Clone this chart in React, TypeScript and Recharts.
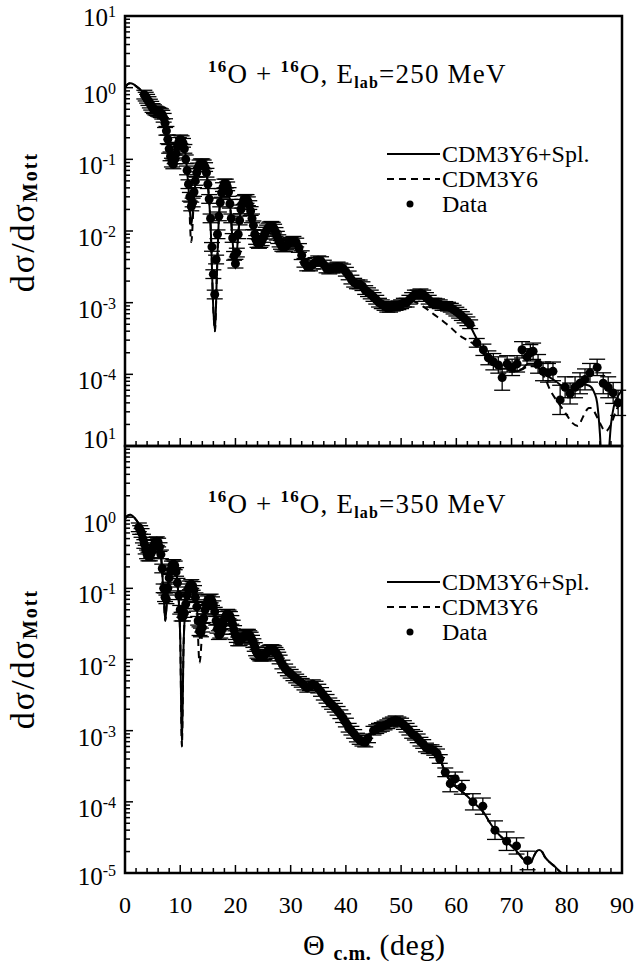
import React from 'react'
import { ComposedChart, Line, Scatter, XAxis, YAxis, ErrorBar, ReferenceArea, Legend } from 'recharts'

const FONT = '"Liberation Serif", "Times New Roman", serif'
const W = 634
const H = 964

// 16O + 16O, Elab = 250 MeV
const spl250 = [
  [0, 1.0], [0.5, 1.12], [1, 1.15], [1.5, 1.12], [2, 1.05], [2.5, 0.98], [3, 0.9], [3.5, 0.82], [4, 0.72],
  [4.5, 0.6], [5, 0.52], [5.5, 0.47], [6, 0.45], [6.5, 0.45], [7, 0.4], [7.5, 0.25], [8, 0.13], [8.5, 0.08],
  [9, 0.09], [9.5, 0.15], [10, 0.19], [10.5, 0.18], [11, 0.11], [11.5, 0.04], [12, 0.012], [12.5, 0.03],
  [13, 0.065], [13.5, 0.085], [14, 0.09], [14.5, 0.08], [15, 0.045], [15.5, 0.012], [16, 0.0008], [16.3, 0.0004],
  [16.6, 0.002], [17, 0.015], [17.5, 0.035], [18, 0.048], [18.5, 0.044], [19, 0.025], [19.5, 0.007], [20, 0.003],
  [20.5, 0.009], [21, 0.02], [21.5, 0.028], [22, 0.029], [22.5, 0.024], [23, 0.015], [23.5, 0.009], [24, 0.0065],
  [24.5, 0.0065], [25, 0.008], [25.5, 0.01], [26, 0.0115], [26.5, 0.012], [27, 0.011], [27.5, 0.0085], [28, 0.0068],
  [28.5, 0.0059], [29, 0.006], [29.5, 0.0066], [30, 0.0072], [30.5, 0.0074], [31, 0.007], [31.5, 0.0058],
  [32, 0.0045], [32.5, 0.0035], [33, 0.0031], [33.5, 0.0031], [34, 0.0034], [34.5, 0.0038], [35, 0.004],
  [35.5, 0.0039], [36, 0.0035], [36.5, 0.003], [37, 0.0029], [37.5, 0.003], [38, 0.0032], [39, 0.0033],
  [40, 0.0028], [41, 0.0021], [42, 0.0018], [43, 0.0017], [44, 0.0014], [45, 0.0012], [46, 0.001], [47, 0.0009],
  [48, 0.00085], [49, 0.0009], [50, 0.00095], [51, 0.001], [52, 0.0012], [53, 0.0013], [54, 0.0013], [55, 0.0012],
  [56, 0.001], [57, 0.00095], [58, 0.0009], [59, 0.00085], [60, 0.0008], [61, 0.0007], [62, 0.00055], [63, 0.0004],
  [64, 0.00028], [65, 0.0002], [66, 0.00015], [67, 0.00013], [68, 0.00012], [69, 0.00012], [70, 0.000115],
  [71, 0.00011], [72, 0.00012], [73, 0.00014], [74, 0.00014], [75, 0.00012], [76, 0.0001], [77, 0.00009],
  [78, 0.00008], [79, 0.00007], [80, 0.000062], [81, 0.00006], [82, 0.000065], [83, 0.000072], [84, 0.00007],
  [85, 0.000055], [85.5, 0.00004], [86, 0.000015], [86.5, 0.000003], [87, 0.000002], [87.5, 0.000006],
  [88, 0.00002], [88.5, 0.000035], [89, 0.000045], [90, 0.00006],
]
const cdm250Dip = [[12, 0.007]]
const cdm250Tail = [
  [52, 0.00105], [53, 0.00098], [54, 0.00088], [55, 0.00078], [56, 0.00068], [57, 0.0006], [58, 0.00052],
  [59, 0.00045], [60, 0.00038], [61, 0.00033], [62, 0.0003], [63, 0.00027], [64, 0.00024], [65, 0.00019],
  [66, 0.00015], [67, 0.00013], [68, 0.00012], [70, 0.000113], [72, 0.000118], [73, 0.00013], [74, 0.00013],
  [75, 0.00011], [76, 0.00009], [77, 0.00006], [78, 0.000045], [79, 0.000035], [80, 0.000027], [81, 0.000021],
  [82, 0.000019], [83, 0.000026], [84, 0.000034], [84.5, 0.000034], [85, 0.00003], [86, 0.000021],
  [87, 0.000016], [88, 0.00002], [89, 0.000032], [90, 0.000045],
]
const data250 = [
  [3.5, 0.8], [4, 0.7], [4.5, 0.6], [5, 0.52], [5.5, 0.48], [6, 0.46], [6.5, 0.44], [7, 0.38], [7.5, 0.25],
  [8, 0.14], [8.5, 0.09], [9, 0.1], [9.5, 0.15], [10, 0.19], [10.5, 0.17], [11, 0.1], [11.5, 0.045], [12, 0.022],
  [12.5, 0.035], [13, 0.065], [13.5, 0.085], [14, 0.088], [14.5, 0.078], [15, 0.045], [15.5, 0.015], [15.75, 0.006],
  [16, 0.0025], [16.25, 0.0013], [16.5, 0.004], [17, 0.016], [17.5, 0.034], [18, 0.046], [18.5, 0.042], [19, 0.024],
  [19.5, 0.008], [20, 0.0035], [20.5, 0.009], [21, 0.02], [21.5, 0.027], [22, 0.028], [22.5, 0.023], [23, 0.015],
  [23.5, 0.009], [24, 0.0068], [24.5, 0.0068], [25, 0.008], [25.5, 0.0098], [26, 0.0112], [26.5, 0.0118],
  [27, 0.0108], [27.5, 0.0086], [28, 0.0069], [28.5, 0.006], [29, 0.006], [29.5, 0.0066], [30, 0.0071],
  [30.5, 0.0073], [31, 0.0069], [31.5, 0.0058], [32, 0.0046], [32.5, 0.0036], [33, 0.0032], [33.5, 0.0032],
  [34, 0.0034], [34.5, 0.0037], [35, 0.0039], [35.5, 0.0038], [36, 0.0034], [36.5, 0.003], [37, 0.0029],
  [37.5, 0.003], [38, 0.0031], [38.5, 0.0032], [39, 0.0031], [39.5, 0.003], [40, 0.0027], [40.5, 0.0024],
  [41, 0.0021], [41.5, 0.0019], [42, 0.0018], [42.5, 0.0018], [43, 0.0017], [43.5, 0.0015], [44, 0.0014],
  [44.5, 0.0013], [45, 0.0012], [45.5, 0.0011], [46, 0.001], [46.5, 0.00095], [47, 0.0009], [47.5, 0.00085],
  [48, 0.00085], [48.5, 0.00088], [49, 0.0009], [49.5, 0.00092], [50, 0.00095], [50.5, 0.001], [51, 0.001],
  [51.5, 0.0011], [52, 0.0012], [52.5, 0.0013], [53, 0.0013], [53.5, 0.00135], [54, 0.0013], [54.5, 0.0012],
  [55, 0.0011], [55.5, 0.001], [56, 0.001], [56.5, 0.00098], [57, 0.00095], [57.5, 0.0009], [58, 0.0009],
  [58.5, 0.00088], [59, 0.00085], [59.5, 0.0008], [60, 0.00075], [60.5, 0.0007], [61, 0.00065], [61.5, 0.0006],
  [62, 0.00055], [62.5, 0.0005],
]
// in-between points of the dense forward-angle data
const data250Fine = [
  [3.75, 0.75], [4.25, 0.65], [4.75, 0.56], [5.25, 0.5], [5.75, 0.47], [6.25, 0.45], [6.75, 0.42], [7.25, 0.32],
  [7.75, 0.19], [8.25, 0.11], [8.75, 0.085], [9.25, 0.12], [9.75, 0.175], [10.25, 0.185], [10.75, 0.14],
  [11.25, 0.07], [11.75, 0.03], [12.25, 0.025], [12.75, 0.05], [13.25, 0.077], [13.75, 0.088], [14.25, 0.085],
  [14.75, 0.065], [15.25, 0.028], [16.75, 0.009], [17.25, 0.025], [17.75, 0.041], [18.25, 0.046], [18.75, 0.035],
  [19.25, 0.015], [19.75, 0.0045], [20.25, 0.005], [20.75, 0.014], [21.25, 0.024], [21.75, 0.028], [22.25, 0.026],
  [22.75, 0.019], [23.25, 0.012], [23.75, 0.0075], [24.25, 0.0066], [24.75, 0.0072], [25.25, 0.0089],
  [25.75, 0.0105], [26.25, 0.0116], [26.75, 0.0115], [27.25, 0.0097], [27.75, 0.0077], [28.25, 0.0064],
  [28.75, 0.0059], [29.25, 0.0063], [29.75, 0.0069],
]
// sparse points at large angles: [theta, value, relative error]
const sparse250 = [
  [63.7, 0.000275, 0.15], [64.9, 0.00022, 0.2], [65.8, 0.00017, 0.25], [66.7, 0.00015, 0.3], [67.6, 0.000135, 0.3],
  [68.3, 0.00009, 0.5], [69.2, 0.00014, 0.3], [70.1, 0.000125, 0.3], [71, 0.00014, 0.3], [71.9, 0.00022, 0.3],
  [72.8, 0.000175, 0.3], [73.4, 0.0002, 0.3], [73.9, 0.00021, 0.3], [74.8, 0.00014, 0.35], [75.7, 0.00011, 0.35],
  [76.6, 0.000105, 0.35], [77.5, 0.00011, 0.35], [78.8, 0.000044, 0.6], [79.7, 0.000066, 0.4], [80.6, 0.000054, 0.4],
  [81.5, 0.000066, 0.4], [82.4, 0.000075, 0.4], [83.3, 0.000085, 0.4], [84.2, 0.000105, 0.35], [85.5, 0.000125, 0.3],
  [86.6, 0.000075, 0.4], [87.5, 0.000066, 0.4], [88.4, 0.000055, 0.4], [89.3, 0.00004, 0.5],
]

// 16O + 16O, Elab = 350 MeV
const spl350 = [
  [0, 0.95], [0.5, 1.05], [1, 1.08], [1.5, 1.02], [2, 0.92], [2.5, 0.8], [3, 0.62], [3.5, 0.42], [4, 0.28],
  [4.5, 0.26], [5, 0.36], [5.5, 0.46], [6, 0.46], [6.5, 0.3], [7, 0.08], [7.3, 0.035], [7.6, 0.07], [8, 0.15],
  [8.5, 0.22], [9, 0.22], [9.5, 0.12], [10, 0.02], [10.3, 0.0006], [10.6, 0.015], [11, 0.06], [11.5, 0.105],
  [12, 0.12], [12.5, 0.1], [13, 0.055], [13.5, 0.02], [14, 0.025], [14.5, 0.05], [15, 0.07], [15.5, 0.075],
  [16, 0.06], [16.5, 0.035], [17, 0.02], [17.5, 0.025], [18, 0.038], [18.5, 0.045], [19, 0.042], [19.5, 0.032],
  [20, 0.022], [20.5, 0.018], [21, 0.019], [21.5, 0.021], [22, 0.023], [22.5, 0.023], [23, 0.02], [23.5, 0.015],
  [24, 0.012], [24.5, 0.011], [25, 0.011], [25.5, 0.012], [26, 0.014], [26.5, 0.0145], [27, 0.014], [27.5, 0.012],
  [28, 0.01], [28.5, 0.0085], [29, 0.0075], [29.5, 0.0068], [30, 0.0063], [31, 0.0055], [32, 0.0048],
  [32.5, 0.0044], [33, 0.0041], [33.5, 0.0043], [34, 0.0046], [34.5, 0.0045], [35, 0.004], [36, 0.0032],
  [37, 0.0026], [38, 0.0021], [39, 0.0017], [40, 0.0013], [41, 0.001], [42, 0.0008], [43, 0.00068],
  [43.5, 0.00066], [44, 0.00075], [45, 0.001], [46, 0.0011], [47, 0.00118], [48, 0.0013], [49, 0.0014],
  [50, 0.0013], [51, 0.0011], [52, 0.0009], [53, 0.00078], [54, 0.00065], [55, 0.00057], [56, 0.0005],
  [57, 0.0004], [58, 0.00026], [59, 0.00019], [60, 0.00016], [61, 0.00014], [62, 0.00012], [63, 0.0001],
  [64, 0.000085], [65, 0.00007], [66, 0.000052], [67, 0.00004], [68, 0.000033], [69, 0.000028], [70, 0.000024],
  [71, 0.00002], [72, 0.000016], [73, 0.000014], [73.5, 0.000014], [74, 0.000017], [74.5, 0.00002],
  [75, 0.000021], [75.5, 0.00002], [76, 0.000017], [77, 0.000014], [78, 0.000012], [79, 0.00001], [80, 0.0000085],
]
const cdm350Dip = [[13.5, 0.009]]
const data350 = [
  [2.5, 0.72], [3, 0.6], [3.5, 0.42], [4, 0.3], [4.5, 0.28], [5, 0.36], [5.5, 0.45], [6, 0.44], [6.5, 0.3],
  [7, 0.1], [7.5, 0.07], [8, 0.14], [8.5, 0.21], [9, 0.21], [9.5, 0.12], [10, 0.05], [10.5, 0.04], [11, 0.06],
  [11.5, 0.1], [12, 0.115], [12.5, 0.095], [13, 0.055], [13.5, 0.025], [14, 0.028], [14.5, 0.05], [15, 0.068],
  [15.5, 0.072], [16, 0.058], [16.5, 0.035], [17, 0.022], [17.5, 0.026], [18, 0.037], [18.5, 0.044], [19, 0.041],
  [19.5, 0.031], [20, 0.022], [20.5, 0.018], [21, 0.019], [21.5, 0.021], [22, 0.023], [22.5, 0.022], [23, 0.019],
  [23.5, 0.015], [24, 0.012], [24.5, 0.011], [25, 0.011], [25.5, 0.012], [26, 0.0135], [26.5, 0.014],
  [27, 0.0135], [27.5, 0.012], [28, 0.01], [28.5, 0.0085], [29, 0.0075], [29.5, 0.0068], [30, 0.0063],
  [30.5, 0.0058], [31, 0.0054], [31.5, 0.005], [32, 0.0047], [32.5, 0.0043], [33, 0.004], [33.5, 0.0042],
  [34, 0.0045], [34.5, 0.0043], [35, 0.0039], [35.5, 0.0035], [36, 0.0031], [36.5, 0.0028], [37, 0.0025],
  [37.5, 0.0023], [38, 0.0021], [38.5, 0.0019], [39, 0.0017], [39.5, 0.0015], [40, 0.0013], [40.5, 0.0011],
  [41, 0.001], [41.5, 0.0009], [42, 0.0008], [42.5, 0.00074], [43, 0.0007], [43.5, 0.00068], [44, 0.00078],
  [45, 0.001], [45.5, 0.00105], [46, 0.0011], [46.5, 0.00113], [47, 0.00118], [47.5, 0.00123], [48, 0.0013],
  [48.5, 0.00135], [49, 0.0014], [49.5, 0.00135], [50, 0.0013], [50.5, 0.0012], [51, 0.0011], [51.5, 0.001],
  [52, 0.0009], [52.5, 0.00085], [53, 0.00078], [53.5, 0.0007], [54, 0.00065], [54.5, 0.00058], [55, 0.00055],
  [55.5, 0.00055], [56, 0.00052], [56.5, 0.00048], [57, 0.0004],
]
const data350Fine = [
  [2.75, 0.66], [3.25, 0.5], [3.75, 0.35], [4.25, 0.28], [4.75, 0.31], [5.25, 0.41], [5.75, 0.46], [6.25, 0.38],
  [6.75, 0.19], [7.25, 0.075], [7.75, 0.1], [8.25, 0.18], [8.75, 0.22], [9.25, 0.17], [9.75, 0.08], [10.25, 0.04],
  [10.75, 0.045], [11.25, 0.08], [11.75, 0.11], [12.25, 0.108], [12.75, 0.075], [13.25, 0.035], [13.75, 0.024],
  [14.25, 0.038], [14.75, 0.06], [15.25, 0.071], [15.75, 0.066], [16.25, 0.047], [16.75, 0.027], [17.25, 0.023],
  [17.75, 0.031], [18.25, 0.041], [18.75, 0.043], [19.25, 0.036], [19.75, 0.026], [20.25, 0.02], [20.75, 0.018],
  [21.25, 0.02], [21.75, 0.022], [22.25, 0.023], [22.75, 0.021], [23.25, 0.017], [23.75, 0.013], [24.25, 0.0115],
  [24.75, 0.011], [25.25, 0.0115], [25.75, 0.0128], [26.25, 0.0138], [26.75, 0.0138], [27.25, 0.0128],
  [27.75, 0.011],
]
const sparse350 = [
  [58, 0.00026, 0.15], [58.9, 0.00018, 0.3], [59.8, 0.00021, 0.25], [61, 0.00016, 0.25], [63, 0.0001, 0.3],
  [64.8, 0.000087, 0.3], [67, 0.00004, 0.35], [69.1, 0.000028, 0.35], [70.9, 0.000024, 0.3], [72.9, 0.000015, 0.35],
]

const legendNames = ['CDM3Y6+Spl.', 'CDM3Y6', 'Data']

const xTicks = Array.from({ length: 46 }, (_, i) => i * 2)
const yTicks: number[] = []
for (let e = -5; e <= 0; e++) for (let m = 1; m <= 9; m++) yTicks.push(m * Math.pow(10, e))
yTicks.push(10)

const toLine = (pts: number[][]) => pts.map(([x, y]) => ({ x, y }))
const toPoints = (pts: number[][]) =>
  pts.map(([x, y, r = 0.15]) => ({ x, y, err: [y - y / (1 + r), y * r] }))

const cdm250 = [
  ...spl250.filter(([t]) => t < 11.6),
  ...cdm250Dip,
  ...spl250.filter(([t]) => t > 12.4 && t < 51.5),
  ...cdm250Tail,
]
const cdm350 = [
  ...spl350.filter(([t]) => t < 13.2),
  ...cdm350Dip,
  ...spl350.filter(([t]) => t > 13.8),
]

function YTick(props: any) {
  const { x, y, payload, labels, shift } = props
  const lg = Math.log10(payload.value)
  const e = Math.round(lg)
  const major = Math.abs(lg - e) < 1e-6
  const show = major && labels.includes(e)
  return (
    <g>
      <line x1={x} y1={y} x2={x + (major ? 8 : 5)} y2={y} stroke="#000" strokeWidth={1.5} />
      {show && (
        <text x={x - 9} y={y + (shift[e] ?? 15)} textAnchor="end" fontSize={25} fontFamily={FONT} fill="#000">
          10<tspan dy={-9} fontSize={16}>{e}</tspan>
        </text>
      )}
    </g>
  )
}

function XTick(props: any) {
  const { x, y, payload, showLabel } = props
  const v = payload.value
  const major = v % 10 === 0
  return (
    <g>
      <line x1={x} y1={y} x2={x} y2={y - (major ? 8 : 5)} stroke="#000" strokeWidth={1.5} />
      {showLabel && major && (
        <text x={x} y={y + 40} textAnchor="middle" fontSize={24} fontFamily={FONT} fill="#000">
          {v}
        </text>
      )}
    </g>
  )
}

function LegendBox() {
  return (
    <svg width={230} height={80} style={{ display: 'block' }}>
      <line x1={5} y1={12} x2={58} y2={12} stroke="#000" strokeWidth={2} />
      <line x1={5} y1={37} x2={58} y2={37} stroke="#000" strokeWidth={2} strokeDasharray="7 5" />
      <circle cx={28} cy={62} r={3.5} fill="#000" />
      {legendNames.map((n, i) => (
        <text key={n} x={60} y={20 + i * 25} fontSize={24} fontFamily={FONT} fill="#000">
          {n}
        </text>
      ))}
    </svg>
  )
}

interface PanelProps {
  spl: number[][]
  cdm: number[][]
  dense: number[][]
  sparse: number[][]
  top: number
  bottom: number
  labels: number[]
  shift: Record<number, number>
  showXLabels: boolean
  legendTop: number
}

function Panel({ spl, cdm, dense, sparse, top, bottom, labels, shift, showXLabels, legendTop }: PanelProps) {
  const points = [...toPoints(dense), ...toPoints(sparse)]
  return (
    <div style={{ position: 'absolute', left: 0, top: 0 }}>
      <ComposedChart width={W} height={H} margin={{ top, right: 12, left: 0, bottom: 0 }}>
        <XAxis
          type="number"
          dataKey="x"
          domain={[0, 90]}
          ticks={xTicks}
          interval={0}
          height={H - bottom}
          tickSize={0}
          tickMargin={0}
          tickLine={false}
          axisLine={false}
          allowDataOverflow
          tick={(p: any) => <XTick {...p} showLabel={showXLabels} />}
        />
        <YAxis
          type="number"
          dataKey="y"
          scale="log"
          domain={[1e-5, 10]}
          ticks={yTicks}
          interval={0}
          width={125}
          tickSize={0}
          tickMargin={0}
          tickLine={false}
          axisLine={false}
          allowDataOverflow
          tick={(p: any) => <YTick {...p} labels={labels} shift={shift} />}
        />
        <ReferenceArea
          x1={0}
          x2={90}
          y1={1e-5}
          y2={10}
          fill="none"
          stroke="#000"
          strokeWidth={2.5}
          ifOverflow="visible"
        />
        <Scatter
          name="Data"
          data={points}
          dataKey="y"
          isAnimationActive={false}
          shape={(p: any) => <circle cx={p.cx} cy={p.cy} r={4.5} fill="#000" />}
        >
          <ErrorBar dataKey="err" direction="y" width={8} stroke="#000" strokeWidth={1.3} isAnimationActive={false} />
        </Scatter>
        <Line
          name="CDM3Y6"
          data={toLine(cdm)}
          dataKey="y"
          type="monotone"
          stroke="#000"
          strokeWidth={2}
          strokeDasharray="7 5"
          dot={false}
          isAnimationActive={false}
        />
        <Line
          name="CDM3Y6+Spl."
          data={toLine(spl)}
          dataKey="y"
          type="monotone"
          stroke="#000"
          strokeWidth={2}
          dot={false}
          isAnimationActive={false}
        />
        <Legend
          layout="vertical"
          align="center"
          verticalAlign="middle"
          width={230}
          wrapperStyle={{ left: 382, top: legendTop, width: 230 }}
          content={() => <LegendBox />}
        />
      </ComposedChart>
    </div>
  )
}

function Title({ y, energy }: { y: number; energy: string }) {
  return (
    <text x={208} y={y} fontSize={27} letterSpacing={1.2} fontFamily={FONT} fill="#000">
      <tspan fontSize={17} fontWeight="bold" dy={-11}>16</tspan>
      <tspan dy={11}>O + </tspan>
      <tspan fontSize={17} fontWeight="bold" dy={-11}>16</tspan>
      <tspan dy={11}>O, E</tspan>
      <tspan fontSize={16} fontWeight="bold" dy={5}>lab</tspan>
      <tspan dy={-5}>={energy} MeV</tspan>
    </text>
  )
}

function YTitle({ cy }: { cy: number }) {
  return (
    <text
      transform={`translate(34,${cy}) rotate(-90)`}
      textAnchor="middle"
      fontSize={34}
      letterSpacing={2}
      fontFamily={FONT}
      fill="#000"
    >
      dσ/dσ<tspan fontSize={20} fontWeight="bold" dy={3}>Mott</tspan>
    </text>
  )
}

export default function App() {
  return (
    <div style={{ position: 'absolute', left: 0, top: 0, width: W, height: H, background: '#fff' }}>
      <svg width={W} height={H} style={{ position: 'absolute', left: 0, top: 0 }}>
        <Title y={83} energy="250" />
        <Title y={513} energy="350" />
        <YTitle cy={222} />
        <YTitle cy={659} />
        <text x={303} y={955} fontSize={30} letterSpacing={0.6} fontFamily={FONT} fill="#000">
          Θ <tspan fontSize={20} fontWeight="bold" dy={5}>c.m.</tspan>
          <tspan dy={-5}> (deg)</tspan>
        </text>
      </svg>
      <Panel
        spl={spl250}
        cdm={cdm250}
        dense={[...data250, ...data250Fine]}
        sparse={sparse250}
        top={16}
        bottom={446}
        labels={[1, 0, -1, -2, -3, -4]}
        shift={{ 1: 10 }}
        showXLabels={false}
        legendTop={142}
      />
      <Panel
        spl={spl350}
        cdm={cdm350}
        dense={[...data350, ...data350Fine]}
        sparse={sparse350}
        top={446}
        bottom={873}
        labels={[1, 0, -1, -2, -3, -4, -5]}
        shift={{ 1: 2, '-5': 12 }}
        showXLabels
        legendTop={570}
      />
    </div>
  )
}
